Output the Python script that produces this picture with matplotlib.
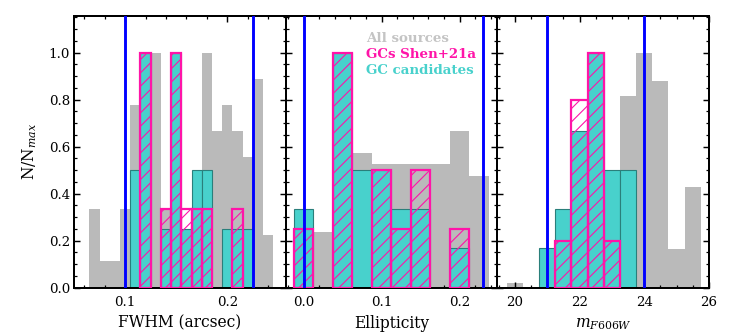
import numpy as np
import matplotlib
matplotlib.use("Agg")
import matplotlib.pyplot as plt
from matplotlib.ticker import MultipleLocator

plt.rcParams['font.family'] = ['DejaVu Serif']
plt.rcParams['mathtext.fontset'] = 'dejavuserif'

# ---------------- data ----------------
# Panel 1: FWHM (arcsec), bin edges 0.065 + 0.01*k
fwhm_edges = np.round(0.065 + 0.01 * np.arange(19), 4)
fwhm_all = np.array([3, 1, 1, 3, 7, 8, 9, 3, 7, 2, 4, 9, 6, 7, 6, 5, 8, 2])
fwhm_cand = np.array([0, 0, 0, 0, 2, 4, 0, 1, 4, 1, 2, 2, 0, 1, 1, 1, 0, 0])
fwhm_shen = np.array([0, 0, 0, 0, 0, 3, 0, 1, 3, 1, 1, 1, 0, 0, 1, 0, 0, 0])
fwhm_cuts = [0.1, 0.225]

# Panel 2: Ellipticity, bin edges -0.0125 + 0.025*k
ell_edges = np.round(-0.0125 + 0.025 * np.arange(11), 4)
ell_all = np.array([4, 5, 21, 12, 11, 11, 11, 11, 14, 10])
ell_cand = np.array([2, 0, 6, 3, 3, 2, 2, 0, 1, 0])
ell_shen = np.array([1, 0, 4, 0, 2, 1, 2, 0, 1, 0])
ell_cuts = [0.0, 0.23]

# Panel 3: m_F606W, bin edges 19.75 + 0.5*k
mag_edges = 19.75 + 0.5 * np.arange(13)
mag_all = np.array([1, 0, 3, 6, 12, 18, 22, 40, 49, 43, 8, 21])
mag_cand = np.array([0, 0, 1, 2, 4, 6, 3, 3, 0, 0, 0, 0])
mag_shen = np.array([0, 0, 0, 1, 4, 5, 1, 0, 0, 0, 0, 0])
mag_cuts = [21.0, 24.0]

xlabels = ["FWHM (arcsec)", "Ellipticity", r"$m_{F606W}$"]
legend_labels = ["All sources", "GCs Shen+21a", "GC candidates"]

# ---------------- style ----------------
c_gray = '#bababa'
c_gray_txt = '#c4c4c4'
c_cyan = '#48d1cc'
c_cyan_edge = '#2a7f7b'
c_pink = '#ff14a8'
c_blue = '#0000ff'

panels = [
    (fwhm_edges, fwhm_all, fwhm_cand, fwhm_shen, fwhm_cuts, (0.05, 0.257), 0.1, 0.02),
    (ell_edges, ell_all, ell_cand, ell_shen, ell_cuts, (-0.0233, 0.2484), 0.1, 0.02),
    (mag_edges, mag_all, mag_cand, mag_shen, mag_cuts, (19.455, 26.0), 2, 0.5),
]

dpi = 80
fig = plt.figure(figsize=(747 / dpi, 336 / dpi), dpi=dpi)
gs = fig.add_gridspec(1, 3, left=0.099, right=0.949, top=0.952, bottom=0.144, wspace=0)
axes = [fig.add_subplot(gs[0, i]) for i in range(3)]


def draw_bars(ax, edges, counts, **kw):
    h = counts / counts.max()
    m = counts > 0
    w = np.diff(edges)
    ax.bar(edges[:-1][m], h[m], width=w[m], align='edge', **kw)


for i, (ax, (edges, a, c, s, cuts, xl, maj, mnr)) in enumerate(zip(axes, panels)):
    centers = 0.5 * (edges[:-1] + edges[1:])
    ax.hist(centers, bins=edges, weights=a / a.max(), histtype='stepfilled',
            color=c_gray, zorder=1)
    draw_bars(ax, edges, c, color=c_cyan, edgecolor=c_cyan_edge, linewidth=1.0, zorder=2)
    draw_bars(ax, edges, s, fill=False, hatch='//', edgecolor=c_pink, linewidth=2.0, zorder=3)
    for xc in cuts:
        ax.axvline(xc, color=c_blue, linewidth=2.6, zorder=4)
    ax.set_xlim(*xl)
    ax.set_ylim(0, 1.155)
    ax.xaxis.set_major_locator(MultipleLocator(maj))
    ax.xaxis.set_minor_locator(MultipleLocator(mnr))
    ax.yaxis.set_major_locator(MultipleLocator(0.2))
    ax.yaxis.set_minor_locator(MultipleLocator(0.05))
    ax.tick_params(which='both', direction='in', top=True, right=True, labelsize=12)
    ax.tick_params(which='major', length=5.5, width=1.3)
    ax.tick_params(which='minor', length=3, width=1.1)
    ax.tick_params(axis='x', which='major', pad=7.5)
    for sp in ax.spines.values():
        sp.set_linewidth(1.8)
    ax.set_xlabel(xlabels[i], fontsize=14, labelpad=5)
    if i > 0:
        ax.tick_params(labelleft=False)

axes[0].set_ylabel(r"N/N$_{max}$", fontsize=14, labelpad=9)

# text legend in middle panel
for k, (lab, col) in enumerate(zip(legend_labels, [c_gray_txt, c_pink, c_cyan])):
    axes[1].text(0.381, 0.919 - 0.06 * k, lab, color=col, fontsize=12, fontweight='bold',
                 transform=axes[1].transAxes, va='center', ha='left', zorder=5)

fig.savefig("out.png", dpi=dpi)
